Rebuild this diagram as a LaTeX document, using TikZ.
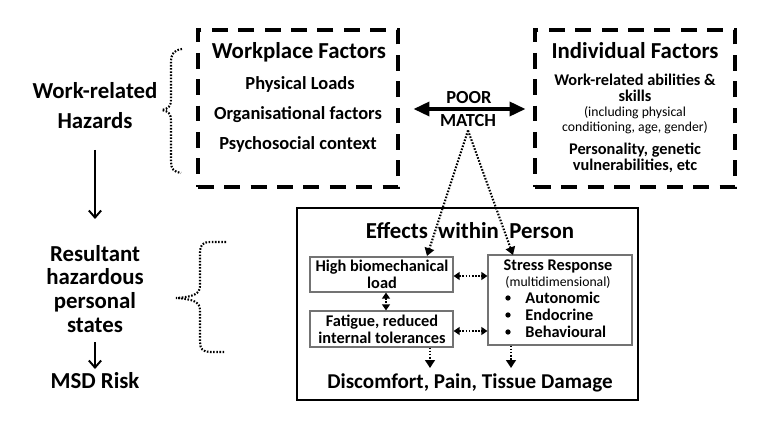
\documentclass[tikz,border=0pt]{standalone}
\usepackage{fontspec}
\setmainfont{Carlito}
\usetikzlibrary{arrows.meta}
\begin{document}
\begin{tikzpicture}[x=0.2mm,y=-0.2mm,
  dbox/.style={draw, line width=1.8pt, dash pattern=on 9pt off 6pt, minimum width=40mm, minimum height=31.4mm, inner sep=0},
  sbox/.style={draw, line width=1.3pt, inner sep=0},
  gbox/.style={draw=black!55, line width=0.6pt, inner sep=0},
  txt/.style={align=center, inner sep=0},
  bigf/.style={font=\bfseries\fontsize{13}{17}\selectfont},
  midf/.style={font=\bfseries\fontsize{10.5}{12}\selectfont},
  smf/.style={font=\bfseries\fontsize{9.3}{9.2}\selectfont},
  tinyf/.style={font=\fontsize{7.8}{8.6}\selectfont},
  dots/.style={line width=1.2pt, dash pattern=on 0.9pt off 0.9pt},
  dtip/.style={-{Triangle[width=5.5pt,length=4.5pt]}},
  ddtip/.style={{Triangle[width=4.5pt,length=3.5pt]}-{Triangle[width=4.5pt,length=3.5pt]}},
  sarr/.style={line width=1.1pt, -{Straight Barb[width=7pt,length=4pt]}}
]
\useasboundingbox (0,0) rectangle (768,421);

% boxes
\node[dbox] (wp) at (298,108.5) {};
\node[dbox] (ind) at (635,108.5) {};
\node[sbox, minimum width=68.2mm, minimum height=38.4mm] (eff) at (467.5,304) {};
\node[gbox, minimum width=28.6mm, minimum height=7mm] (hb) at (381.5,274.5) {};
\node[gbox, minimum width=28.6mm, minimum height=7.2mm] (fat) at (381.5,329) {};
\node[gbox, minimum width=28.8mm, minimum height=18mm] (sr) at (560,300) {};

% workplace text
\node[txt, bigf] (wpt) at (299,52) {Workplace Factors};
\node[txt, midf] (wp1) at (300,84) {Physical Loads};
\node[txt, midf] (wp2) at (298,115) {Organisational factors};
\node[txt, midf] (wp3) at (298,144) {Psychosocial context};

% individual text
\node[txt, bigf] (indt) at (635,51) {Individual Factors};
\node[txt, smf] (ind1) at (635,88) {Work-related abilities \&\\skills};
\node[txt, tinyf] (ind2) at (635,120) {(including physical\\conditioning, age, gender)};
\node[txt, smf] (ind3) at (635,158) {Personality, genetic\\vulnerabilities, etc};

% poor match
\node[txt, font=\bfseries\fontsize{10.5}{12}\selectfont] (poor) at (469,98) {POOR};
\node[txt, font=\bfseries\fontsize{10.5}{12}\selectfont] (match) at (468,121) {MATCH};
\draw[line width=1.8pt, {Triangle[width=8pt,length=9pt]}-{Triangle[width=8pt,length=9pt]}, shorten <=2.8mm, shorten >=1.6mm]
  ([yshift=-0.1mm]wp.east) -- ([yshift=-0.1mm]ind.west);

% dotted from match
\coordinate (t1) at (427,256);
\coordinate (t2) at (513,255);
\draw[dots, dtip] ([yshift=-0.6mm]match.south) -- (t1);
\draw[dots, dtip] ([yshift=-0.6mm]match.south) -- (t2);

% effects text
\node[txt, bigf] (efft) at (470,231) {Effects\ \ within\ \ Person};
\node[txt, font=\bfseries\fontsize{12}{14}\selectfont] (dis) at (470,383) {Discomfort, Pain, Tissue Damage};

\node[txt, font=\bfseries\fontsize{9.3}{9.5}\selectfont] (hbt) at (382,274.5) {High biomechanical\\load};
\node[txt, font=\bfseries\fontsize{9.3}{9.5}\selectfont] (fatt) at (382,329) {Fatigue, reduced\\internal tolerances};

\node[txt, font=\bfseries\fontsize{9.3}{10}\selectfont] (srt) at (558,266) {Stress Response};
\node[txt, tinyf] (srm) at (558,282) {(multidimensional)};
\node[txt, font=\bfseries\fontsize{9.3}{10}\selectfont, anchor=west] (b1) at (525,298) {Autonomic};
\node[txt, font=\bfseries\fontsize{9.3}{10}\selectfont, anchor=west] (b2) at (525,315) {Endocrine};
\node[txt, font=\bfseries\fontsize{9.3}{10}\selectfont, anchor=west] (b3) at (525,332) {Behavioural};
\foreach \yy in {298,315,332} \fill (508,\yy) circle (1.5pt);

% inner dotted arrows
\draw[dots, ddtip] ([yshift=-0.3mm]hb.east) -- ([yshift=-0.3mm]hb.east -| sr.west);
\draw[dots, ddtip] ([yshift=-0.4mm]fat.east) -- ([yshift=-0.4mm]fat.east -| sr.west);
\draw[dots, ddtip] ([xshift=0.9mm]hb.south) -- ([xshift=0.9mm]fat.north);
\coordinate (d1) at (430,368);
\coordinate (d2) at (511,368);
\draw[dots, dtip] (fat.south -| d1) -- (d1);
\draw[dots, dtip] (sr.south -| d2) -- (d2);

% left column
\node[txt, bigf] (wh) at (95,106) {Work-related\\Hazards};
\node[txt, font=\bfseries\fontsize{13}{13.6}\selectfont] (rs) at (95,289) {Resultant\\hazardous\\personal\\states};
\node[txt, bigf] (msd) at (95,381) {MSD Risk};
\coordinate (a1) at (95,150);
\coordinate (a2) at (95,219);
\draw[sarr] (a1) -- (a2);
\coordinate (a3) at (95,342);
\coordinate (a4) at (95,369);
\draw[sarr] (a3) -- (a4);

% braces
\draw[dots] (182,49) .. controls (174,50) and (171,54) .. (171,62) -- (171,100)
  .. controls (171,106) and (168,109) .. (162,110)
  .. controls (168,111) and (171,114) .. (171,120) -- (171,162)
  .. controls (171,169) and (174,172) .. (181,173);
\draw[dots] (226,242) -- (210,242) .. controls (203,242) and (200,245) .. (200,252) -- (200,286)
  .. controls (200,294) and (193,297) .. (176,298)
  .. controls (193,299) and (200,302) .. (200,310) -- (200,342)
  .. controls (200,349) and (203,352) .. (210,352) -- (225,352);
\end{tikzpicture}
\end{document}
